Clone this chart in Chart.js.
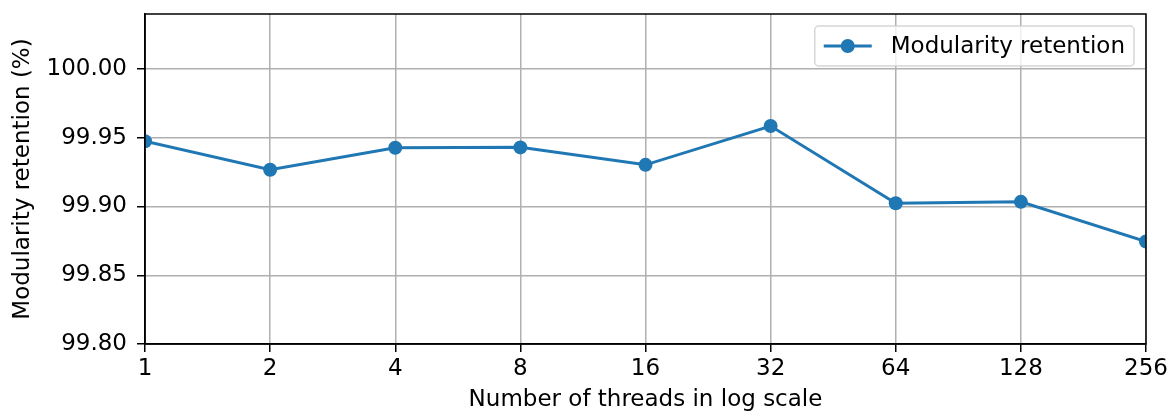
<!DOCTYPE html>
<html>
<head>
<meta charset="utf-8">
<title>Modularity retention vs. threads</title>
<script src="https://cdn.jsdelivr.net/npm/chart.js@4.4.1/dist/chart.umd.min.js"></script>
<style>
  html, body { margin: 0; padding: 0; background: #fff; }
  canvas { display: block; }
</style>
</head>
<body>
<canvas id="chart" width="1169" height="412"></canvas>
<script>
// Thread counts (powers of two, evenly spaced = log scale)
const threadCounts = ['1', '2', '4', '8', '16', '32', '64', '128', '256'];
// Modularity retained relative to the single-thread baseline, in percent
const retention = [99.9475, 99.9267, 99.9427, 99.9430, 99.9303, 99.9585, 99.9024, 99.9034, 99.8745];
// Y axis range and tick step
const yMin = 99.80;
const yMax = 100.04;
const yStep = 0.05;

const seriesLabel = 'Modularity retention';
const blue = '#1f77b4';
const fontFamily = '"DejaVu Sans", "Liberation Sans", sans-serif';
const fontSize = 23;

// Box around the plot area plus an in-plot legend
const frameAndLegend = {
  id: 'frameAndLegend',
  afterDatasetsDraw(chart) {
    const { ctx, chartArea: a } = chart;
    ctx.save();
    ctx.strokeStyle = '#000';
    ctx.lineWidth = 1.5;
    ctx.strokeRect(a.left, a.top, a.right - a.left, a.bottom - a.top);

    // legend box, anchored to the upper-right corner of the plot
    const ds = chart.data.datasets[0];
    ctx.font = fontSize + 'px ' + fontFamily;
    const textW = ctx.measureText(ds.label).width;
    const boxR = a.right - 12;
    const boxT = a.top + 12;
    const boxH = 40;
    const boxW = 76 + textW + 9;
    const boxL = boxR - boxW;
    const r = 4;
    ctx.beginPath();
    ctx.moveTo(boxL + r, boxT);
    ctx.arcTo(boxR, boxT, boxR, boxT + boxH, r);
    ctx.arcTo(boxR, boxT + boxH, boxL, boxT + boxH, r);
    ctx.arcTo(boxL, boxT + boxH, boxL, boxT, r);
    ctx.arcTo(boxL, boxT, boxR, boxT, r);
    ctx.closePath();
    ctx.fillStyle = 'rgba(255,255,255,0.8)';
    ctx.fill();
    ctx.strokeStyle = 'rgba(204,204,204,0.8)';
    ctx.lineWidth = 1.5;
    ctx.stroke();

    const cy = boxT + boxH / 2;
    ctx.strokeStyle = ds.borderColor;
    ctx.lineWidth = ds.borderWidth;
    ctx.beginPath();
    ctx.moveTo(boxL + 9, cy);
    ctx.lineTo(boxL + 57, cy);
    ctx.stroke();
    ctx.fillStyle = ds.pointBackgroundColor;
    ctx.beginPath();
    ctx.arc(boxL + 33, cy, ds.pointRadius, 0, Math.PI * 2);
    ctx.fill();

    ctx.fillStyle = '#000';
    ctx.textBaseline = 'middle';
    ctx.textAlign = 'left';
    ctx.fillText(ds.label, boxL + 76, cy + 1);
    ctx.restore();
  }
};

new Chart(document.getElementById('chart'), {
  type: 'line',
  data: {
    labels: threadCounts,
    datasets: [{
      label: seriesLabel,
      data: retention,
      borderColor: blue,
      backgroundColor: blue,
      pointBackgroundColor: blue,
      pointBorderColor: blue,
      borderWidth: 3,
      pointRadius: 7,
      pointBorderWidth: 0,
      tension: 0,
      clip: 0
    }]
  },
  options: {
    responsive: false,
    animation: false,
    devicePixelRatio: 1,
    layout: { padding: { left: 0, right: 23, top: 14, bottom: 0 } },
    plugins: {
      legend: { display: false },
      tooltip: { enabled: false }
    },
    scales: {
      x: {
        type: 'category',
        offset: false,
        grid: {
          color: '#b0b0b0',
          lineWidth: 1.5,
          drawTicks: true,
          tickLength: 8,
          tickColor: '#000',
          tickWidth: 1.5
        },
        border: { color: '#000', width: 1.5 },
        ticks: {
          color: '#000',
          padding: 3,
          maxRotation: 0,
          autoSkip: false,
          font: { family: fontFamily, size: fontSize }
        },
        title: {
          display: true,
          text: 'Number of threads in log scale',
          color: '#000',
          font: { family: fontFamily, size: fontSize, lineHeight: 1 },
          padding: { top: 0, bottom: 0 }
        },
        afterFit(scale) {
          scale.height = 68;
          scale.paddingLeft = 0;
          scale.paddingRight = 0;
        }
      },
      y: {
        type: 'linear',
        min: yMin,
        max: yMax,
        grid: {
          color: '#b0b0b0',
          lineWidth: 1.5,
          drawTicks: true,
          tickLength: 8,
          tickColor: '#000',
          tickWidth: 1.5
        },
        border: { color: '#000', width: 1.5 },
        ticks: {
          stepSize: yStep,
          includeBounds: false,
          color: '#000',
          padding: 10,
          font: { family: fontFamily, size: fontSize },
          callback: (v) => Number(v).toFixed(2)
        },
        title: {
          display: true,
          text: 'Modularity retention (%)',
          color: '#000',
          font: { family: fontFamily, size: fontSize, lineHeight: 1.2 },
          padding: { top: 9, bottom: 0 }
        },
        afterFit(scale) {
          scale.width = 145;
          scale.paddingTop = 0;
          scale.paddingBottom = 0;
        }
      }
    }
  },
  plugins: [frameAndLegend]
});
</script>
</body>
</html>
